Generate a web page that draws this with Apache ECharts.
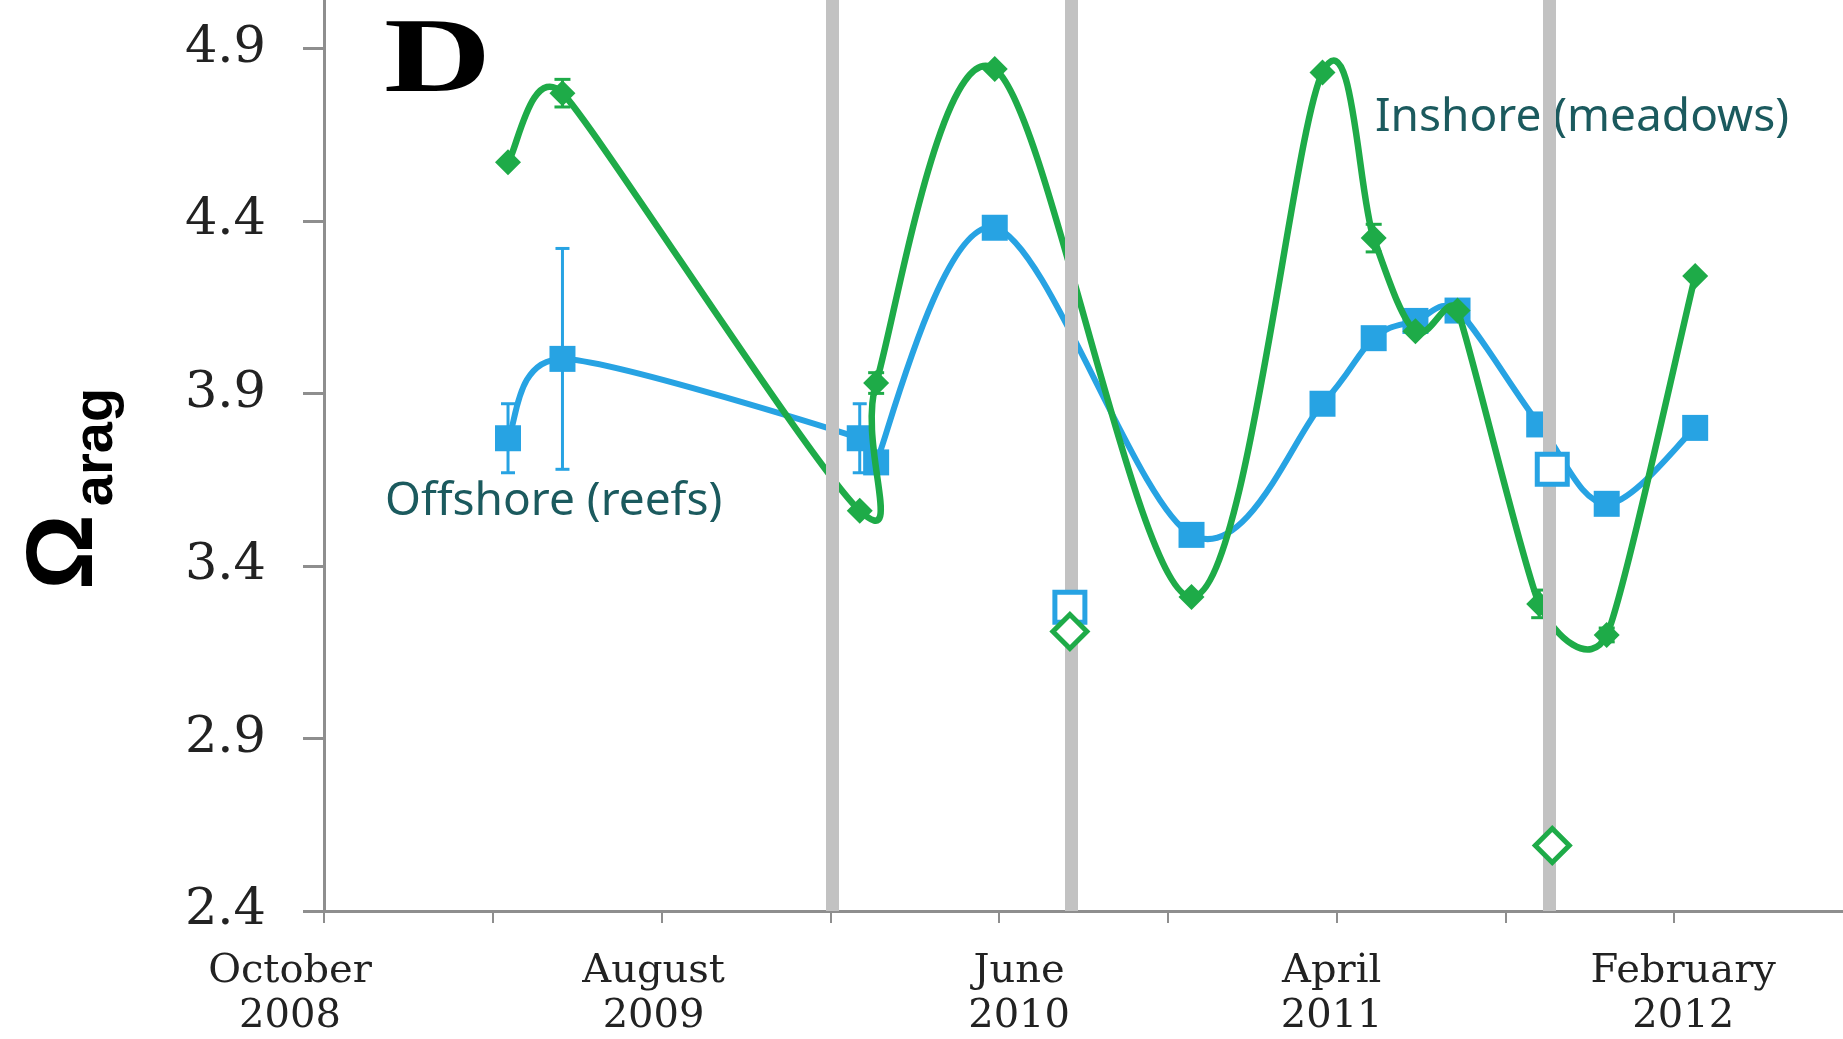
<!DOCTYPE html>
<html>
<head>
<meta charset="utf-8">
<script src="https://cdn.jsdelivr.net/npm/echarts@6/dist/echarts.min.js"></script>
<style>
  html, body { margin: 0; padding: 0; background: #ffffff; }
  #chart { width: 1843px; height: 1039px; }
</style>
</head>
<body>
<div id="chart"></div>
<script>
// Sampling dates shared by both sites
const sampleDates = ['2009-03-15', '2009-05-03', '2010-01-28', '2010-02-11', '2010-05-28', '2010-11-22',
  '2011-03-19', '2011-05-04', '2011-06-11', '2011-07-19', '2011-10-01', '2011-12-01', '2012-02-19'];

// Aragonite saturation state, offshore reef stations
const offshoreOmega = [3.77, 4.00, 3.77, 3.70, 4.38, 3.49, 3.87, 4.06, 4.11, 4.14, 3.81, 3.58, 3.80];
const offshoreErr   = [0.10, 0.32, 0.10, 0, 0, 0, 0, 0, 0, 0, 0, 0, 0];

// Aragonite saturation state, inshore seagrass meadows
const inshoreOmega = [4.57, 4.77, 3.56, 3.93, 4.84, 3.31, 4.83, 4.35, 4.08, 4.14, 3.29, 3.20, 4.24];
const inshoreErr   = [0, 0.04, 0, 0.03, 0, 0, 0, 0.04, 0, 0, 0.04, 0.02, 0];

// Samples taken right after events (open symbols)
const eventSampleDates = ['2010-08-04', '2011-10-13'];
const offshoreEventOmega = [3.28, 3.68];
const inshoreEventOmega = [3.21, 2.59];

// Event dates marked by grey bands
const eventDates = ['2010-01-03', '2010-08-05', '2011-10-10'];

// Labels on every other 5-month tick
const xTickLabels = ['October\n2008', 'August\n2009', 'June\n2010', 'April\n2011', 'February\n2012'];
const yTickValues = [2.4, 2.9, 3.4, 3.9, 4.4, 4.9];

const BLUE = '#27a3e3';
const GREEN = '#1eab48';
const AXIS_GREY = '#8e8e8e';
const NOTE_COLOR = '#1b5a5e';
const LABEL_FONT = 'DejaVu Serif';

// horizontal nudges (px) for the two-line date labels
const labelNudge = { 0: -34, 10: -8, 20: 20, 30: -5, 40: 9 };

// months elapsed since 1 October 2008
function monthsFromStart(s) {
  const [y, m, d] = s.split('-').map(Number);
  const daysInMonth = new Date(y, m, 0).getDate();
  return (y - 2008) * 12 + (m - 1) - 9 + (d - 1) / daysInMonth;
}

const sampleX = sampleDates.map(monthsFromStart);
const offshorePts = sampleX.map((x, i) => [x, offshoreOmega[i]]);
const inshorePts = sampleX.map((x, i) => [x, inshoreOmega[i]]);
const offshoreBars = sampleX.map((x, i) => [x, offshoreOmega[i] - offshoreErr[i], offshoreOmega[i] + offshoreErr[i]])
  .filter((d, i) => offshoreErr[i] > 0);
const inshoreBars = sampleX.map((x, i) => [x, inshoreOmega[i] - inshoreErr[i], inshoreOmega[i] + inshoreErr[i]])
  .filter((d, i) => inshoreErr[i] > 0);
const eventX = eventSampleDates.map(monthsFromStart);

function errorBarRenderer(color, capWidth, lineWidth) {
  return function (params, api) {
    const x = api.value(0);
    const lo = api.coord([x, api.value(1)]);
    const hi = api.coord([x, api.value(2)]);
    const half = capWidth / 2;
    const style = { stroke: color, lineWidth: lineWidth };
    return {
      type: 'group',
      children: [
        { type: 'line', shape: { x1: lo[0], y1: lo[1], x2: hi[0], y2: hi[1] }, style: style },
        { type: 'line', shape: { x1: lo[0] - half, y1: lo[1], x2: lo[0] + half, y2: lo[1] }, style: style },
        { type: 'line', shape: { x1: hi[0] - half, y1: hi[1], x2: hi[0] + half, y2: hi[1] }, style: style }
      ]
    };
  };
}

// Spreadsheet-style smoothed connector: one cubic segment from each point to the next,
// tangents from the neighbouring points (1/6 tension), limited to half the shorter side.
function smoothSegmentRenderer(color, width, count) {
  function dist(a, b) { return Math.hypot(b[0] - a[0], b[1] - a[1]); }
  function tangent(a, b, c) {
    let tx = (c[0] - a[0]) / 6, ty = (c[1] - a[1]) / 6;
    const len = Math.hypot(tx, ty);
    const sides = [dist(a, b), dist(b, c)].filter(d => d > 0);
    const lim = sides.length ? Math.min.apply(null, sides) / 2 : 0;
    if (len > lim && len > 0) { tx *= lim / len; ty *= lim / len; }
    return [tx, ty];
  }
  return function (params, api) {
    const i = params.dataIndexInside;
    if (i >= count - 1) return null;
    const pt = k => api.coord([api.value(0, k), api.value(1, k)]);
    const p0 = pt(Math.max(i - 1, 0)), p1 = pt(i), p2 = pt(i + 1), p3 = pt(Math.min(i + 2, count - 1));
    const t1 = tangent(p0, p1, p2);
    const t2 = tangent(p1, p2, p3);
    return {
      type: 'bezierCurve',
      shape: {
        x1: p1[0], y1: p1[1], x2: p2[0], y2: p2[1],
        cpx1: p1[0] + t1[0], cpy1: p1[1] + t1[1],
        cpx2: p2[0] - t2[0], cpy2: p2[1] - t2[1]
      },
      style: { stroke: color, lineWidth: width, fill: null, lineCap: 'round' }
    };
  };
}

const chart = echarts.init(document.getElementById('chart'), null, { renderer: 'canvas' });

const richLabels = {};
Object.keys(labelNudge).forEach(k => {
  const s = labelNudge[k];
  richLabels['n' + k] = {
    fontFamily: LABEL_FONT, fontSize: 40, lineHeight: 45, color: '#222222',
    padding: s < 0 ? [0, -2 * s, 0, 0] : [0, 0, 0, 2 * s]
  };
});

chart.setOption({
  animation: false,
  backgroundColor: '#ffffff',
  grid: { left: 324, right: 0, top: 0, bottom: 128, containLabel: false },
  xAxis: {
    type: 'value',
    min: 0,
    max: 45,
    interval: 5,
    axisLine: { show: true, onZero: false, lineStyle: { color: AXIS_GREY, width: 3 } },
    axisTick: { show: true, length: 12, lineStyle: { color: AXIS_GREY, width: 2 } },
    splitLine: { show: false },
    axisLabel: {
      show: true,
      margin: 38,
      color: '#222222',
      fontFamily: LABEL_FONT,
      fontSize: 40,
      lineHeight: 45,
      showMaxLabel: false,
      formatter: function (v) {
        if (v % 10 !== 0) return '';
        const text = xTickLabels[v / 10];
        if (!text) return '';
        return text.split('\n').map(t => '{n' + v + '|' + t + '}').join('\n');
      },
      rich: richLabels
    }
  },
  yAxis: {
    type: 'value',
    min: 2.4,
    max: 5.04,
    interval: 0.5,
    axisLine: { show: true, lineStyle: { color: AXIS_GREY, width: 3 } },
    axisTick: { show: true, length: 21, customValues: yTickValues, lineStyle: { color: AXIS_GREY, width: 3 } },
    splitLine: { show: false },
    axisLabel: {
      customValues: yTickValues,
      margin: 58,
      color: '#222222',
      fontFamily: LABEL_FONT,
      fontSize: 51,
      formatter: v => v.toFixed(1)
    }
  },
  graphic: [
    {
      type: 'text', x: 384, y: 11, scaleX: 1.4,
      style: { text: 'D', font: 'bold 106px "Liberation Serif"', fill: '#000000', textAlign: 'left', textVerticalAlign: 'top' }
    },
    {
      type: 'text', x: 66, y: 552, rotation: Math.PI / 2,
      style: { text: 'Ω', font: 'bold 94px "Liberation Sans"', fill: '#000000', textAlign: 'center', textVerticalAlign: 'middle' }
    },
    {
      type: 'text', x: 97, y: 447, rotation: Math.PI / 2,
      style: { text: 'arag', font: 'bold 56px "Liberation Sans"', fill: '#000000', textAlign: 'center', textVerticalAlign: 'middle' }
    },
    {
      type: 'text', x: 385, y: 502,
      style: { text: 'Offshore (reefs)', font: '46px "Noto Sans"', fill: NOTE_COLOR, textAlign: 'left', textVerticalAlign: 'middle' }
    },
    {
      type: 'text', x: 1375, y: 118,
      style: { text: 'Inshore (meadows)', font: '46px "Noto Sans"', fill: NOTE_COLOR, textAlign: 'left', textVerticalAlign: 'middle' }
    }
  ],
  series: [
    {
      name: 'events',
      type: 'scatter',
      data: [],
      z: 1,
      silent: true,
      markLine: {
        silent: true,
        symbol: ['none', 'none'],
        label: { show: false },
        lineStyle: { color: '#c2c2c2', width: 13, type: 'solid' },
        emphasis: { disabled: true },
        data: eventDates.map(d => ({ xAxis: monthsFromStart(d) }))
      }
    },
    {
      name: 'Offshore curve',
      type: 'custom',
      data: offshorePts,
      encode: { x: 0, y: 1 },
      z: 3,
      silent: true,
      renderItem: smoothSegmentRenderer(BLUE, 6, offshorePts.length)
    },
    {
      name: 'Offshore (reefs)',
      type: 'scatter',
      data: offshorePts,
      symbol: 'rect',
      symbolSize: 26,
      z: 3,
      itemStyle: { color: BLUE, opacity: 1 }
    },
    {
      name: 'Offshore error',
      type: 'custom',
      data: offshoreBars,
      encode: { x: 0, y: [1, 2] },
      z: 3,
      renderItem: errorBarRenderer(BLUE, 14, 3)
    },
    {
      name: 'Offshore after event',
      type: 'scatter',
      data: eventX.map((x, i) => [x, offshoreEventOmega[i]]),
      symbol: 'rect',
      symbolSize: 30,
      z: 5,
      itemStyle: { color: '#ffffff', borderColor: BLUE, borderWidth: 5, opacity: 1 }
    },
    {
      name: 'Inshore curve',
      type: 'custom',
      data: inshorePts,
      encode: { x: 0, y: 1 },
      z: 4,
      silent: true,
      renderItem: smoothSegmentRenderer(GREEN, 6.5, inshorePts.length)
    },
    {
      name: 'Inshore (meadows)',
      type: 'scatter',
      data: inshorePts,
      symbol: 'diamond',
      symbolSize: 26,
      z: 4,
      itemStyle: { color: GREEN, opacity: 1 }
    },
    {
      name: 'Inshore error',
      type: 'custom',
      data: inshoreBars,
      encode: { x: 0, y: [1, 2] },
      z: 4,
      renderItem: errorBarRenderer(GREEN, 16, 3)
    },
    {
      name: 'Inshore after event',
      type: 'scatter',
      data: eventX.map((x, i) => [x, inshoreEventOmega[i]]),
      symbol: 'diamond',
      symbolSize: 34,
      z: 6,
      itemStyle: { color: '#ffffff', borderColor: GREEN, borderWidth: 5, opacity: 1 }
    }
  ]
});
</script>
</body>
</html>
